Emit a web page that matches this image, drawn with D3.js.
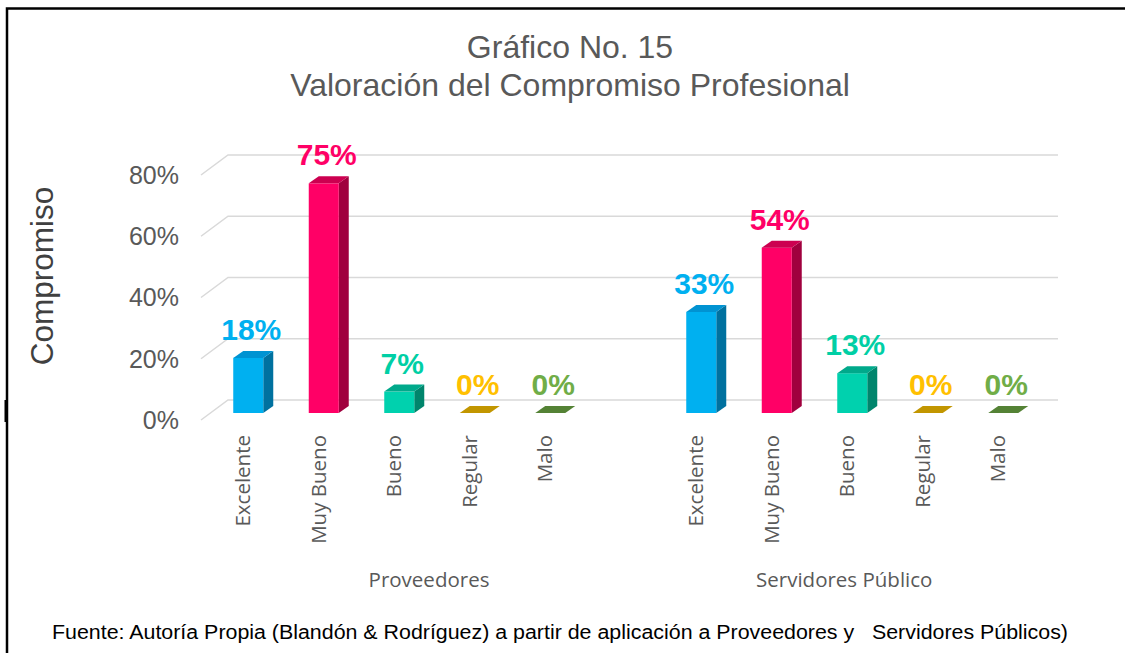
<!DOCTYPE html>
<html>
<head>
<meta charset="utf-8">
<script src="https://cdn.jsdelivr.net/npm/d3@7"></script>
<style>
  body { margin: 0; background: #fff; }
  svg { display: block; }
</style>
</head>
<body>
<div id="container"></div>
<script>
const width = 1125;
const height = 653;

// data
const titleLines = ["Gráfico No. 15", "Valoración del Compromiso Profesional"];
const groups = ["Proveedores", "Servidores Público"];
const categories = ["Excelente", "Muy Bueno", "Bueno", "Regular", "Malo"];
const proveedores = [18, 75, 7, 0, 0];
const servidores = [33, 54, 13, 0, 0];
const yTicks = [0, 20, 40, 60, 80];
const footer = "Fuente: Autoría Propia (Blandón & Rodríguez) a partir de aplicación a Proveedores y   Servidores Públicos)";

const colors = {
  "Excelente": {front: "#00B0F0", top: "#0093D2", side: "#00719F", label: "#00B0F0"},
  "Muy Bueno": {front: "#FF0066", top: "#CC0050", side: "#A0003E", label: "#FF0066"},
  "Bueno":     {front: "#00D1AE", top: "#00A98B", side: "#00856C", label: "#00CFA5"},
  "Regular":   {front: "#FFC000", top: "#C29600", side: "#9A7700", label: "#FFC000"},
  "Malo":      {front: "#70AD47", top: "#548235", side: "#436B2A", label: "#70AD47"}
};

const svg = d3.select("#container")
              .append("svg")
              .attr("width", width)
              .attr("height", height);

svg.append("rect").attr("width", width).attr("height", height).attr("fill", "#fff");

// outer frame (left and top edges visible)
svg.append("path")
   .attr("d", "M7,653 V8.5 H1125")
   .attr("fill", "none")
   .attr("stroke", "#000")
   .attr("stroke-width", 2.5);
svg.append("rect").attr("x", 4.5).attr("y", 400).attr("width", 3).attr("height", 22).attr("fill", "#000");

// slots: 5 categories, a gap, 5 categories
const rows = [];
groups.forEach((g, gi) => {
  const vals = gi === 0 ? proveedores : servidores;
  categories.forEach((c, ci) => rows.push({group: g, cat: c, value: vals[ci], key: g + "|" + c}));
  if (gi === 0) rows.push({group: g, cat: null, value: null, key: "gap"});
});

const x = d3.scaleBand()
            .domain(rows.map(d => d.key))
            .range([210.5, 1041])
            .padding(0);
const y = d3.scaleLinear().domain([0, 80]).range([413, 168]);

const depth = {dx: 27, dy: 20};   // wall depth
const barDepth = {dx: 10, dy: 7};
const barW = 30;
const wallLeft = 228, wallRight = 1058;

// gridlines on back wall + side floor diagonals
const grid = svg.append("g").attr("stroke", "#d9d9d9").attr("stroke-width", 1.5).attr("fill", "none");
yTicks.forEach(t => {
  const yb = y(t) - 13;
  grid.append("path").attr("d", `M${wallLeft - depth.dx},${yb + depth.dy} L${wallLeft},${yb} H${wallRight}`);
});

// y tick labels
svg.append("g")
   .selectAll("text")
   .data(yTicks)
   .enter()
   .append("text")
   .attr("x", 179)
   .attr("y", d => y(d) + 7)
   .attr("dy", "0.35em")
   .attr("text-anchor", "end")
   .attr("font-family", "Liberation Sans, Arial, sans-serif")
   .attr("font-size", 25)
   .attr("fill", "#595959")
   .text(d => d + "%");

// y axis title
svg.append("text")
   .attr("transform", "translate(42,276) rotate(-90)")
   .attr("dy", "0.35em")
   .attr("text-anchor", "middle")
   .attr("font-family", "Liberation Sans, Arial, sans-serif")
   .attr("font-size", 31.5)
   .attr("fill", "#404040")
   .text("Compromiso");

// bars
const bars = svg.append("g");
rows.filter(d => d.cat).forEach(d => {
  const cx = x(d.key) + x.bandwidth() / 2;
  const x0 = cx - barW / 2, x1 = cx + barW / 2;
  const yb = y(0), yt = y(d.value);
  const col = colors[d.cat];
  const g = bars.append("g");
  if (d.value > 0) {
    g.append("path")
     .attr("d", `M${x1},${yb} L${x1 + barDepth.dx},${yb - barDepth.dy} L${x1 + barDepth.dx},${yt - barDepth.dy} L${x1},${yt} Z`)
     .attr("fill", col.side);
    g.append("rect")
     .attr("x", x0).attr("y", yt).attr("width", barW).attr("height", yb - yt)
     .attr("fill", col.front);
  }
  g.append("path")
   .attr("d", `M${x0},${yt} L${x1},${yt} L${x1 + barDepth.dx},${yt - barDepth.dy} L${x0 + barDepth.dx},${yt - barDepth.dy} Z`)
   .attr("fill", col.top);
  // value label
  svg.append("text")
     .attr("x", cx + 3)
     .attr("y", yt - 18)
     .attr("text-anchor", "middle")
     .attr("font-family", "Liberation Sans, Arial, sans-serif")
     .attr("font-weight", "bold")
     .attr("font-size", 30)
     .attr("fill", col.label)
     .text(d.value + "%");
  // category label
  svg.append("text")
     .attr("transform", `translate(${cx - 5},435) rotate(-90)`)
     .attr("dy", "0.35em")
     .attr("text-anchor", "end")
     .attr("font-family", "Open Sans, sans-serif")
     .attr("font-size", 20.5)
     .attr("fill", "#595959")
     .text(d.cat);
});

// group labels
groups.forEach(g => {
  const keys = rows.filter((d, i) => d.group === g).map(d => d.key);
  const left = x(keys[0]);
  const right = x(keys[keys.length - 1]) + x.bandwidth();
  svg.append("text")
     .attr("x", (left + right) / 2 - 8)
     .attr("y", 580)
     .attr("dy", "0.35em")
     .attr("text-anchor", "middle")
     .attr("font-family", "Open Sans, sans-serif")
     .attr("font-size", 20.5)
     .attr("fill", "#595959")
     .text(g);
});

// title
svg.append("g")
   .selectAll("text")
   .data(titleLines)
   .enter()
   .append("text")
   .attr("x", 570)
   .attr("y", (d, i) => 58 + i * 38)
   .attr("text-anchor", "middle")
   .attr("font-family", "Liberation Sans, Arial, sans-serif")
   .attr("font-size", 32)
   .attr("fill", "#595959")
   .text(d => d);

// footer
svg.append("text")
   .attr("x", 52)
   .attr("y", 639)
   .attr("font-family", "Liberation Sans, Arial, sans-serif")
   .attr("font-size", 20)
   .attr("fill", "#000")
   .attr("textLength", 1016)
   .attr("lengthAdjust", "spacingAndGlyphs")
   .style("white-space", "pre")
   .text(footer);
</script>
</body>
</html>
